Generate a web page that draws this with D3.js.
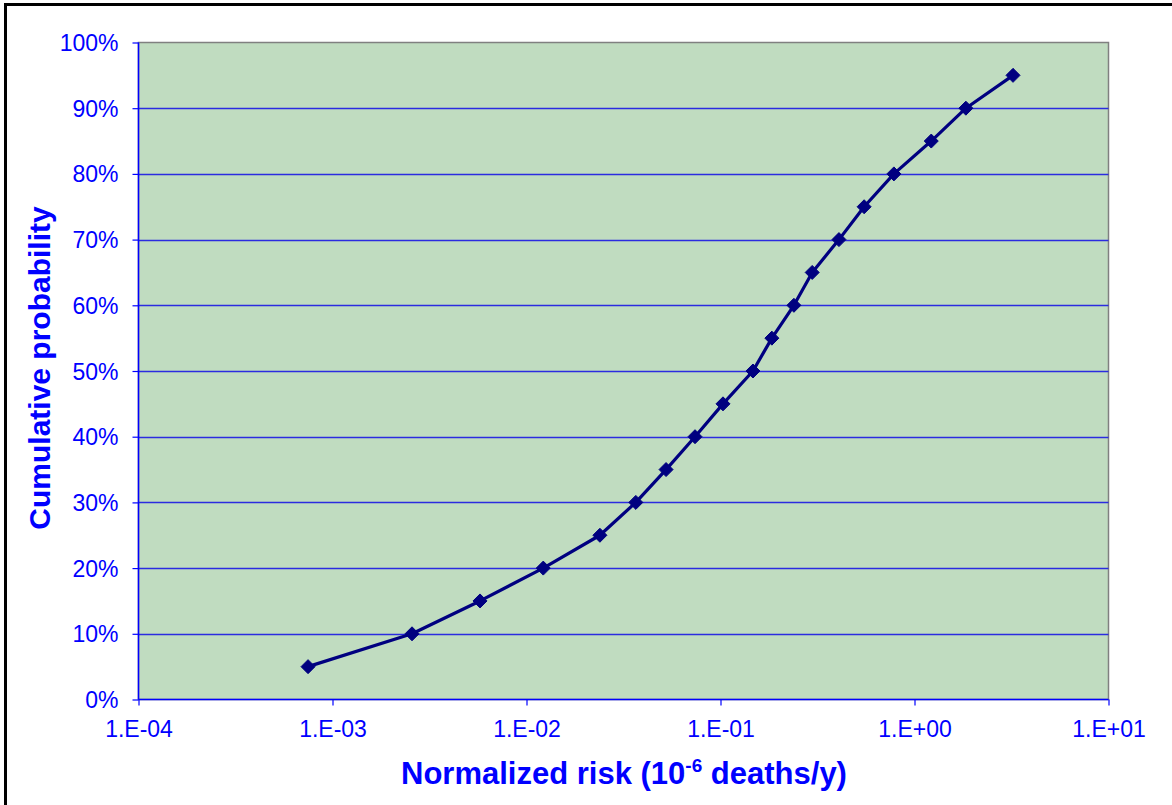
<!DOCTYPE html>
<html>
<head>
<meta charset="utf-8">
<script src="https://cdn.jsdelivr.net/npm/d3@7"></script>
<style>
  html, body { margin: 0; padding: 0; background: #fff; }
  svg { display: block; font-family: "Liberation Sans", Arial, sans-serif; }
</style>
</head>
<body>
<svg id="chart" width="1172" height="805"></svg>
<script>
// Data
const riskValues = [7.48e-4, 2.57e-3, 5.76e-3, 1.22e-2, 2.39e-2, 3.66e-2, 5.24e-2, 7.39e-2, 0.103, 0.147, 0.184, 0.239, 0.297, 0.408, 0.550, 0.783, 1.22, 1.84, 3.22];
const cumulativeProb = [0.05, 0.10, 0.15, 0.20, 0.25, 0.30, 0.35, 0.40, 0.45, 0.50, 0.55, 0.60, 0.65, 0.70, 0.75, 0.80, 0.85, 0.90, 0.95];
const xTickValues = [1e-4, 1e-3, 1e-2, 1e-1, 1e0, 1e1];
const xTickLabels = ["1.E-04", "1.E-03", "1.E-02", "1.E-01", "1.E+00", "1.E+01"];
const yTickValues = [0, 0.1, 0.2, 0.3, 0.4, 0.5, 0.6, 0.7, 0.8, 0.9, 1.0];
const yTickLabels = ["0%", "10%", "20%", "30%", "40%", "50%", "60%", "70%", "80%", "90%", "100%"];

const svg = d3.select("#chart");
const L = 138.5, R = 1108.5, T = 42.5, B = 699.5;
const blue = "#0000FF";

// outer border
svg.append("rect").attr("x", 5.5).attr("y", 4.5).attr("width", 1180).attr("height", 820)
  .attr("fill", "none").attr("stroke", "#000").attr("stroke-width", 3);

const x = d3.scaleLog().domain([1e-4, 1e1]).range([L, R]);
const y = d3.scaleLinear().domain([0, 1]).range([B, T]);

// plot background
svg.append("rect").attr("x", L).attr("y", T).attr("width", R - L).attr("height", B - T)
  .attr("fill", "#C0DCC0").attr("stroke", "#808080").attr("stroke-width", 1.5);

// gridlines
svg.append("g").selectAll("line").data(yTickValues.filter(v => v > 0 && v < 1)).join("line")
  .attr("x1", L).attr("x2", R).attr("y1", d => Math.round(y(d)) + 0.5).attr("y2", d => Math.round(y(d)) + 0.5)
  .attr("stroke", "#2B2BE0").attr("stroke-width", 1.3);

// Y axis
const yAxis = d3.axisLeft(y).tickValues(yTickValues).tickFormat((d, i) => yTickLabels[i]).tickSize(6).tickPadding(14);
const gy = svg.append("g").attr("transform", `translate(${L},0)`).call(yAxis);
gy.select(".domain").attr("stroke", blue).attr("stroke-width", 1.5).attr("d", `M0,${T}V${B}`);
gy.selectAll(".tick line").attr("stroke", blue).attr("stroke-width", 1.2);
gy.selectAll(".tick text").attr("fill", blue).style("font-size", "23px")
  .style("font-family", '"Liberation Sans", Arial, sans-serif').attr("dy", "0.35em");

// X axis
const xAxis = d3.axisBottom(x).tickValues(xTickValues).tickFormat((d, i) => xTickLabels[i]).tickSize(6).tickPadding(15);
const gx = svg.append("g").attr("transform", `translate(0,${B})`).call(xAxis);
gx.select(".domain").attr("stroke", blue).attr("stroke-width", 1.5).attr("d", `M${L},0H${R}`);
gx.selectAll(".tick line").attr("stroke", blue).attr("stroke-width", 1.2);
gx.selectAll(".tick text").attr("fill", blue).style("font-size", "23px")
  .style("font-family", '"Liberation Sans", Arial, sans-serif');

// Line
const pts = riskValues.map((v, i) => [v, cumulativeProb[i]]);
svg.append("path").datum(pts)
  .attr("d", d3.line().x(d => x(d[0])).y(d => y(d[1])))
  .attr("fill", "none").attr("stroke", "#000080").attr("stroke-width", 3.2).attr("stroke-linejoin", "round");

// Markers (diamonds)
svg.append("g").selectAll("path").data(pts).join("path")
  .attr("transform", d => `translate(${x(d[0])},${y(d[1])})`)
  .attr("d", "M0,-7L7,0L0,7L-7,0Z")
  .attr("fill", "#000080").attr("stroke", "#000080").attr("stroke-width", 1);

// Axis titles
const xt = svg.append("text").attr("x", 624).attr("y", 784).attr("text-anchor", "middle")
  .attr("fill", blue).style("font-size", "31px").style("font-weight", "bold");
xt.append("tspan").text("Normalized risk (10");
xt.append("tspan").attr("dy", -12).style("font-size", "19px").text("-6");
xt.append("tspan").attr("dy", 12).text(" deaths/y)");

svg.append("text").attr("transform", `translate(50,368) rotate(-90)`)
  .attr("text-anchor", "middle").attr("fill", blue)
  .style("font-size", "30px").style("font-weight", "bold").text("Cumulative probability");
</script>
</body>
</html>
